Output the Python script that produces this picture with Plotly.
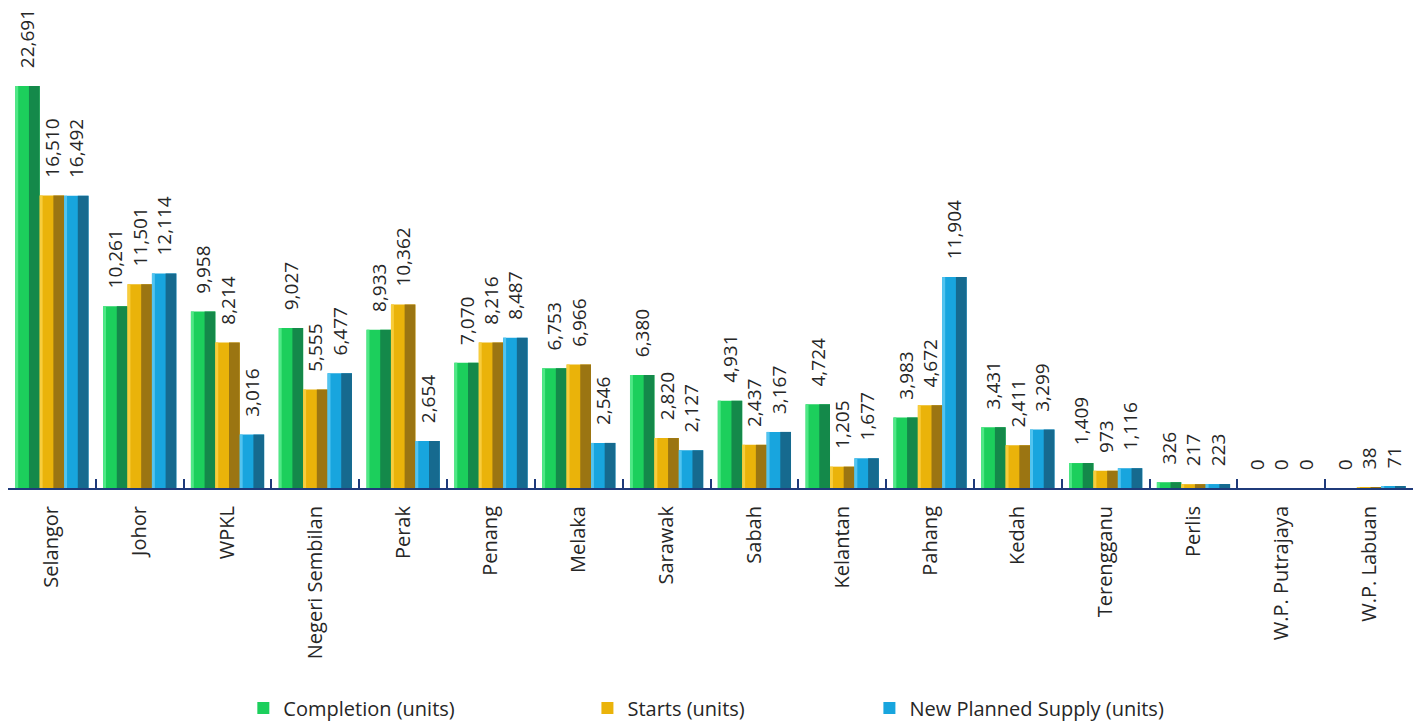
import plotly.graph_objects as go

# Housing supply by state
states = ["Selangor", "Johor", "WPKL", "Negeri Sembilan", "Perak", "Penang", "Melaka",
          "Sarawak", "Sabah", "Kelantan", "Pahang", "Kedah", "Terengganu", "Perlis",
          "W.P. Putrajaya", "W.P. Labuan"]
completion = [22691, 10261, 9958, 9027, 8933, 7070, 6753, 6380, 4931, 4724, 3983, 3431, 1409, 326, 0, 0]
starts = [16510, 11501, 8214, 5555, 10362, 8216, 6966, 2820, 2437, 1205, 4672, 2411, 973, 217, 0, 38]
planned = [16492, 12114, 3016, 6477, 2654, 8487, 2546, 2127, 3167, 1677, 11904, 3299, 1116, 223, 0, 71]

series = [
    ("Completion (units)", completion, "#1ccf5c", "#14894a", "#4fe886"),
    ("Starts (units)", starts, "#eab30a", "#9b7512", "#f8cd3c"),
    ("New Planned Supply (units)", planned, "#18a5de", "#166a8f", "#52c4f0"),
]

W = 0.278                      # width of one bar, in category units
FONT = "Open Sans, Noto Sans, sans-serif"
TXT = "#262626"
PAD = "\u00a0\u00a0\u00a0"     # gap between bar top and its value label

legend_x = [0.1675, 0.4124, 0.6131]

fig = go.Figure()
for i, (name, vals, base, dark, light) in enumerate(series):
    off = (i - 1.5) * W
    lg = "legend" if i == 0 else f"legend{i + 1}"
    # main face
    fig.add_trace(go.Bar(
        x=states, y=vals, name=name, legend=lg,
        offset=off, width=W,
        marker=dict(color=base, line=dict(width=0)),
        text=[PAD + f"{v:,}" for v in vals],
        textposition="outside", textangle=-90,
        textfont=dict(family=FONT, size=19, color=TXT),
        constraintext="none", cliponaxis=False,
    ))
    # shaded right face
    fig.add_trace(go.Bar(
        x=states, y=vals, showlegend=False, hoverinfo="skip",
        offset=off + 0.56 * W, width=0.44 * W,
        marker=dict(color=dark, line=dict(width=0)),
    ))
    # highlighted left edge
    fig.add_trace(go.Bar(
        x=states, y=vals, showlegend=False, hoverinfo="skip",
        offset=off, width=0.12 * W,
        marker=dict(color=light, line=dict(width=0)),
    ))

legend_common = dict(
    orientation="h", yanchor="middle", xanchor="left",
    y=-0.4508,
    font=dict(family=FONT, size=20, color=TXT),
    bgcolor="rgba(0,0,0,0)",
)

fig.update_layout(
    width=1419, height=722,
    margin=dict(l=8, r=6, t=0, b=234, autoexpand=False),
    paper_bgcolor="white", plot_bgcolor="white",
    barmode="overlay",
    showlegend=True,
    legend=dict(x=legend_x[0], **legend_common),
    legend2=dict(x=legend_x[1], **legend_common),
    legend3=dict(x=legend_x[2], **legend_common),
    xaxis=dict(
        type="category", tickson="boundaries", automargin=False,
        showline=True, linecolor="#1f3a7a", linewidth=2,
        ticks="inside", ticklen=9, tickwidth=2, tickcolor="#1f3a7a",
        tickangle=-90, showgrid=False, ticklabelstandoff=8,
        tickfont=dict(family=FONT, size=20, color=TXT),
    ),
    yaxis=dict(visible=False, range=[0, 27545], showgrid=False, zeroline=False),
)

fig.write_html("out.html")
